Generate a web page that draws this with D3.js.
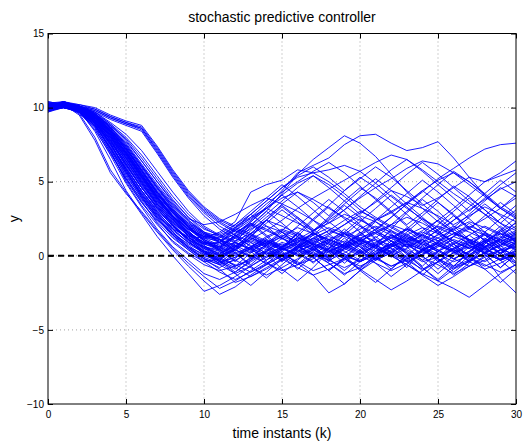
<!DOCTYPE html>
<html>
<head>
<meta charset="utf-8">
<script src="https://cdn.jsdelivr.net/npm/d3@7"></script>
<style>
  body { margin: 0; background: #fff; }
  svg { display: block; font-family: "Liberation Sans", Arial, Helvetica, sans-serif; }
</style>
</head>
<body>
<svg id="chart" width="528" height="441"></svg>
<script>
// DATA — time instants and the simulated output runs
const timeSteps = [0,1,2,3,4,5,6,7,8,9,10,11,12,13,14,15,16,17,18,19,20,21,22,23,24,25,26,27,28,29,30];
const xTicks = [0,5,10,15,20,25,30];
const yTicks = [-10,-5,0,5,10,15];
const reference = [0, 0];

// runs that settle quickly (around k = 8..9)
const runsFast = [
  [10.2,10.3,9.9,8.9,7.2,5.3,3.7,2.2,0.9,0.1,-0.6,-1.0, -0.7,-0.2,0.4,0.9,0.6,0.1,-0.3,0.2,0.8,1.1,0.7,0.2,-0.4,-0.1,0.5,0.9,0.4,0.0,0.3],
  [9.8,10.0,9.7,8.6,6.8,4.9,3.3,1.8,0.6,-0.3,-1.2,-1.6, -1.1,-0.4,0.2,0.0,-0.6,-0.2,0.5,1.0,0.6,-0.1,-0.7,-0.3,0.4,0.8,0.3,-0.4,-0.9,-0.5,0.1],
  [10.4,10.2,10.0,9.1,7.6,5.7,4.0,2.6,1.4,0.5,-0.2,-0.9, -1.8,-1.4,-0.8,-0.2,0.4,0.1,-0.5,-1.2,-0.8,0.0,0.6,1.0,0.5,-0.3,-0.9,-0.4,0.2,0.7,1.2],
  [10.0,10.4,9.8,8.4,6.5,4.4,2.9,1.6,0.4,-0.7,-1.7,-2.6, -2.1,-1.3,-0.6,0.0,0.5,0.9,1.3,0.9,0.3,-0.2,0.3,0.9,1.4,1.0,0.4,0.1,0.6,1.1,0.8],
  [9.7,10.1,9.6,8.7,7.0,5.1,3.6,2.4,1.5,0.8,0.2,-0.4, -0.1,0.6,1.3,1.8,1.4,0.8,0.3,0.7,1.2,1.6,2.1,1.7,1.0,0.4,-0.2,0.3,0.9,1.3,1.0],
  [10.3,10.1,9.8,8.8,7.3,5.6,4.1,2.8,1.7,0.9,0.3,0.0, 0.5,1.1,0.7,0.2,-0.5,-1.3,-2.5,-1.9,-1.0,-0.3,0.2,0.8,0.4,-0.2,-0.8,-0.4,0.2,-0.3,0.1],
  [10.1,10.2,9.5,7.8,5.6,4.2,3.0,1.7,0.5,-0.5,-1.4,-2.2, -1.7,-1.0,-0.3,0.3,0.8,0.4,-0.1,0.5,1.1,0.6,0.0,-0.6,-1.3,-2.0,-1.4,-0.7,0.0,0.4,0.9],
  [9.9,10.3,9.6,8.0,5.8,4.3,2.8,1.3,0.0,-1.2,-2.4,-2.0, -1.4,-0.7,0.0,0.6,1.2,0.9,0.4,0.0,-0.4,0.1,0.7,1.3,0.9,0.4,-0.2,-0.7,-0.3,0.4,0.6],
  [10.0,10.0,9.7,8.5,6.9,5.2,3.8,2.5,1.3,0.4,-0.4,-1.1, -1.6,-1.1,-0.5,0.1,-0.4,-1.0,-0.6,-0.2,-0.9,-1.6,-2.3,-1.7,-1.0,-0.4,0.2,0.6,0.2,-0.3,0.1],
  [10.2,10.0,9.9,9.0,7.5,5.9,4.3,2.9,1.6,0.6,-0.2,-0.6, -0.3,0.3,0.9,0.5,0.0,0.4,1.0,1.5,1.1,0.5,0.0,-0.6,-1.2,-1.7,-2.2,-2.8,-2.0,-1.2,-0.6],
  [9.9,10.2,9.8,8.9,7.1,5.0,3.4,2.1,1.0,0.2,-0.4,-0.2, 0.4,1.0,0.6,0.1,0.6,1.2,0.8,0.3,-0.3,0.2,0.8,0.3,-0.3,0.3,0.9,0.5,-0.1,-1.5,-2.5],
  [10.3,10.4,10.0,9.2,7.8,6.0,4.4,3.0,1.8,0.9,0.2,-0.3, -0.8,-1.4,-0.9,-0.3,0.3,0.8,0.4,-0.2,-0.7,-0.2,0.4,1.0,1.6,1.2,0.6,0.1,-0.4,0.2,0.8]
];

// runs that settle around k = 10..11
const runsMid = [
  [10.1,10.3,10.0,9.4,8.3,6.9,5.4,4.0,2.8,1.8,1.0,0.5, 0.1,0.6,1.2,1.7,1.3,0.7,0.2,0.8,1.4,1.0,0.5,-0.1,0.4,1.0,1.5,1.1,0.6,1.2,1.7],
  [9.8,10.0,9.8,9.3,8.2,6.8,5.3,3.8,2.5,1.4,0.5,-0.2, -0.6,-1.1,-0.6,0.0,0.6,0.2,-0.3,-0.8,-0.3,0.3,0.8,0.4,-0.1,-0.6,-1.2,-0.7,-0.1,0.4,0.1],
  [10.0,10.1,9.9,9.5,8.6,7.3,5.8,4.3,3.0,2.0,1.2,0.7, 1.2,1.8,2.4,2.0,1.5,1.0,1.5,2.1,2.7,2.3,1.7,1.2,0.7,1.2,1.8,2.3,1.9,1.4,2.0],
  [10.2,10.3,10.1,9.6,8.7,7.5,6.1,4.6,3.2,2.0,1.0,0.3, -0.3,-0.8,-1.3,-0.8,-0.2,0.4,0.9,0.5,0.0,-0.5,-1.0,-0.5,0.1,0.7,0.3,-0.2,-0.7,-0.2,0.4],
  [9.9,10.2,9.9,9.2,8.0,6.5,5.0,3.6,2.4,1.5,0.9,0.6, 0.9,0.4,-0.1,0.4,1.0,1.5,1.1,0.6,0.1,0.6,1.2,1.8,1.4,0.8,0.3,0.8,1.4,0.9,0.4],
  [10.4,10.2,10.0,9.4,8.4,7.0,5.5,4.1,2.9,1.9,1.2,1.0, 1.5,2.2,1.8,1.2,0.6,1.1,1.7,2.4,3.0,2.5,1.9,1.3,0.8,0.3,0.8,1.4,2.0,1.5,1.1],
  [10.0,10.1,9.9,9.3,8.3,7.0,5.6,4.2,2.9,1.7,0.7,-0.1, -0.7,-0.3,0.3,-0.2,-0.8,-1.3,-0.9,-0.3,0.2,0.7,0.3,-0.2,0.3,0.9,0.4,-0.1,-0.6,-1.1,-0.6],
  [9.7,10.0,9.8,9.2,8.1,6.6,5.1,3.7,2.6,1.8,1.3,1.1, 0.7,0.2,0.7,1.3,0.9,0.4,-0.1,0.4,0.9,0.5,0.0,0.5,1.1,0.7,0.2,-0.3,0.2,0.8,1.3],
  [10.1,10.4,10.1,9.5,8.5,7.2,5.7,4.3,3.1,2.2,1.6,1.3, 1.8,1.4,0.9,0.4,0.9,1.4,1.9,1.5,1.0,1.5,2.1,2.6,2.2,1.6,1.0,0.5,1.0,1.6,2.2],
  [10.0,10.2,10.0,9.4,8.2,6.7,5.2,3.8,2.5,1.3,0.3,-0.6, -1.2,-0.7,-0.1,0.5,0.1,-0.4,0.1,0.6,1.1,0.7,0.2,-0.3,-0.9,-0.4,0.2,0.7,0.3,-0.2,0.3],
  [9.9,10.1,9.8,9.1,7.9,6.4,4.9,3.4,2.1,1.0,0.1,-0.5, -0.1,0.5,1.0,0.6,0.1,0.6,1.1,0.7,0.2,-0.3,0.2,0.8,0.4,-0.1,0.4,1.0,1.5,1.1,0.6],
  [10.3,10.1,10.0,9.5,8.5,7.1,5.5,4.0,2.6,1.5,0.6,0.0, 0.4,0.0,-0.5,-1.0,-0.6,0.0,0.5,0.1,-0.4,0.1,0.6,1.1,0.6,0.1,-0.4,0.0,0.5,0.0,-0.5],
  [10.2,10.2,10.0,9.6,8.9,8.0,6.8,5.4,4.0,2.8,1.9,1.3, 0.9,0.4,0.9,1.4,1.0,0.5,0.0,0.5,1.0,0.6,0.1,-0.4,0.1,0.6,1.1,0.7,0.2,0.7,1.2],
  [9.8,10.1,9.9,9.5,8.8,7.9,6.6,5.2,3.8,2.6,1.6,0.9, 0.4,-0.1,0.3,0.8,0.4,-0.1,0.3,0.8,0.3,-0.2,-0.7,-0.2,0.3,-0.2,-0.7,-0.3,0.2,-0.3,0.2],
  [10.1,10.3,10.1,9.7,9.0,8.2,7.1,5.7,4.3,3.0,2.0,1.4, 1.0,1.5,2.0,1.6,1.1,0.6,1.1,1.6,1.2,0.7,1.2,1.8,1.3,0.8,1.3,1.8,1.4,0.9,0.4]
];

// slow bundle, still near 8.5 at k = 6
const runsSlow = [
  [10.1,10.4,10.2,9.9,9.4,9.0,8.6,7.2,5.6,4.2,3.1,2.3, 1.7,1.2,0.8,1.3,1.9,1.5,1.0,0.5,1.0,1.6,1.2,0.7,0.2,0.7,1.3,0.9,0.4,0.9,1.5],
  [10.0,10.3,10.1,9.8,9.3,8.9,8.5,7.0,5.4,4.0,2.9,2.0, 1.4,0.9,0.4,0.0,0.5,1.0,0.6,0.1,-0.4,0.1,0.6,1.2,0.8,0.3,-0.2,0.3,0.9,0.5,0.0],
  [10.2,10.3,10.2,10.0,9.5,9.1,8.8,7.4,5.8,4.4,3.3,2.5, 2.0,2.6,3.2,2.7,2.2,1.7,2.2,2.8,2.4,1.9,1.4,0.9,1.4,2.0,1.6,1.1,0.6,1.1,1.6],
  [9.9,10.2,10.0,9.7,9.2,8.8,8.4,6.9,5.3,3.9,2.7,1.8, 1.2,0.7,0.2,-0.3,0.2,0.8,0.3,-0.2,0.3,0.9,1.4,1.0,0.5,0.0,0.5,1.1,0.7,0.2,0.7],
  [10.1,10.2,10.1,9.9,9.4,9.0,8.7,7.3,5.7,4.3,3.2,2.4, 1.9,1.5,1.0,0.5,0.0,0.5,1.1,0.7,0.2,0.7,1.3,0.9,0.4,0.9,1.5,2.0,1.6,1.0,0.5],
  [10.0,10.4,10.1,9.8,9.3,8.9,8.6,7.1,5.5,4.1,3.0,2.2, 1.6,2.1,1.7,1.2,0.7,1.2,1.7,1.3,0.8,0.3,0.8,1.4,1.9,1.5,1.0,0.5,1.0,1.5,1.1]
];

// runs with large excursions after settling
const runsExcursion = [
  [10.0,10.2,9.9,9.3,8.1,6.6,5.0,3.6,2.4,1.5,0.9,0.8, 1.3,2.0,3.0,4.2,5.5,6.5,7.3,8.1,7.6,6.7,5.5,4.3,3.2,2.3,1.6,1.0,0.5,1.0,1.4],
  [10.1,10.2,10.0,9.5,8.5,7.1,5.6,4.2,3.0,2.1,1.5,1.2, 1.7,2.4,3.3,4.4,5.6,6.1,6.6,7.5,8.1,8.2,7.6,7.1,7.3,7.7,6.6,5.3,4.1,3.2,2.5],
  [9.9,10.1,9.7,8.8,7.2,5.4,3.9,2.7,1.8,1.3,1.2,1.6, 2.3,4.3,4.8,5.1,5.8,5.6,5.0,4.2,3.3,2.6,2.0,1.4,0.9,1.4,2.0,1.6,1.1,0.6,1.0],
  [10.2,10.3,10.0,9.4,8.3,6.9,5.3,3.9,2.7,1.8,1.1,0.6, 0.2,0.6,1.1,0.7,0.3,0.8,1.4,2.1,2.9,3.6,4.4,4.0,3.4,3.9,4.6,5.3,5.0,5.4,5.8],
  [10.0,10.1,9.8,9.0,7.6,5.9,4.4,3.1,2.0,1.2,0.6,0.3, 0.7,1.2,0.8,0.4,0.9,1.5,1.1,0.6,1.1,1.8,2.6,3.5,4.3,5.2,5.9,6.6,7.2,7.5,7.6],
  [10.1,10.0,9.8,9.2,8.0,6.4,4.9,3.5,2.3,1.4,0.8,0.9, 1.5,2.3,3.2,4.1,4.9,5.4,4.8,4.0,3.1,2.4,2.9,3.6,4.4,5.1,5.6,5.0,4.2,3.3,2.7],
  [10.3,10.2,9.9,9.3,8.2,6.8,5.3,3.9,2.7,1.8,1.3,1.5, 2.1,2.8,3.7,4.6,5.3,5.6,5.8,6.1,5.7,4.9,4.0,3.2,2.5,1.9,1.4,1.9,2.5,3.2,3.9],
  [9.9,10.2,10.0,9.4,8.4,7.0,5.5,4.0,2.7,1.6,0.8,0.4, 0.0,0.5,1.0,0.6,1.1,1.7,2.4,3.1,3.9,4.6,5.2,5.9,6.4,6.2,5.6,4.8,4.0,3.2,2.6],
  [10.0,10.3,10.1,9.7,8.9,7.8,6.4,5.0,3.7,2.6,1.8,1.4, 1.9,2.5,3.2,3.9,4.3,3.8,3.2,2.6,2.0,1.5,1.0,0.6,1.1,1.7,2.4,3.1,3.8,4.5,5.0],
  [10.2,10.1,9.9,9.1,7.8,6.2,4.6,3.2,2.0,1.1,0.5,0.2, 0.6,1.1,1.7,2.4,3.2,3.9,4.5,5.1,5.7,6.3,6.8,6.5,5.8,5.0,4.2,3.5,2.8,2.2,1.7],
  [10.1,10.3,10.0,9.6,8.7,7.4,6.0,4.6,3.4,2.5,2.1,2.3, 2.8,3.4,3.9,3.5,3.0,2.4,1.8,1.3,1.8,2.4,3.0,3.6,3.2,2.7,2.1,2.7,3.3,2.8,2.3],
  [9.8,10.0,9.7,8.9,7.4,5.7,4.2,2.9,1.9,1.1,0.6,0.4, 0.9,0.5,0.1,0.6,1.2,0.8,0.3,0.8,1.4,2.0,1.6,1.1,1.7,2.4,3.2,4.1,5.0,5.6,6.4]
];

// further runs with a rougher, step-to-step jagged tail
const runsJagged = [
  [10.1,10.0,9.8,9.0,7.7,6.1,4.6,3.3,2.2,1.4,0.8,0.5, 1.4,0.3,-0.6,0.5,1.6,0.7,-0.3,0.9,2.0,1.1,0.2,-0.8,0.4,1.5,0.6,-0.4,0.8,1.7,0.9],
  [9.9,10.3,9.9,9.1,7.8,6.3,4.8,3.5,2.3,1.3,0.5,0.0, 0.9,2.1,3.0,2.2,1.3,2.4,3.3,2.5,1.6,0.7,1.8,2.9,3.8,3.0,2.0,1.1,0.2,1.2,2.3],
  [10.0,10.1,9.7,8.7,7.0,5.2,3.6,2.3,1.2,0.4,-0.3,-0.8, -0.2,0.9,0.1,-0.9,-1.7,-0.8,0.3,1.2,0.4,-0.5,-1.4,-0.6,0.5,-0.4,-1.3,-0.5,0.6,1.5,0.7],
  [10.2,10.3,10.1,9.5,8.4,7.0,5.5,4.1,2.9,2.0,1.4,1.1, 0.3,1.3,2.4,3.5,4.3,3.6,2.7,3.7,4.6,3.9,3.0,2.1,2.9,3.8,4.7,4.0,3.1,2.2,3.1],
  [9.8,10.2,9.9,9.2,8.0,6.6,5.1,3.7,2.4,1.3,0.4,-0.3, -1.1,-0.3,0.7,1.6,0.8,-0.1,-1.0,-0.2,0.8,1.8,1.0,0.1,-0.8,-1.6,-0.7,0.3,1.2,0.4,-0.5],
  [10.1,10.2,10.0,9.3,8.1,6.7,5.2,3.8,2.6,1.6,0.9,0.5, 1.3,2.2,1.4,0.5,1.5,2.5,3.4,4.4,5.3,4.6,3.7,2.8,1.9,1.0,1.9,2.8,3.7,4.6,4.0],
  [10.3,10.2,10.0,9.4,8.3,6.9,5.4,4.0,2.7,1.6,0.7,0.1, 0.7,-0.2,0.8,1.7,2.6,1.8,0.9,0.0,-0.9,0.1,1.0,0.2,-0.7,0.3,1.3,2.2,1.4,0.5,-0.4],
  [9.9,10.0,9.8,9.2,8.1,6.6,5.0,3.5,2.2,1.1,0.3,-0.2, 0.6,1.5,2.4,3.3,2.5,1.6,0.7,1.6,2.5,1.7,0.8,1.8,2.7,3.6,2.8,1.9,1.0,0.1,0.9],
  [10.0,10.4,10.0,9.3,8.0,6.4,4.8,3.4,2.1,1.1,0.3,-0.3, 0.5,1.4,0.6,-0.3,0.6,1.6,0.8,-0.1,-1.0,-1.8,-0.9,0.1,-0.8,-1.7,-0.9,0.0,1.0,0.2,-0.7],
  [10.2,10.1,9.9,9.4,8.5,7.3,5.9,4.5,3.2,2.1,1.3,0.9, 1.7,2.6,3.5,4.3,5.0,5.7,6.3,5.6,4.7,3.8,2.9,2.0,1.2,2.1,3.0,3.9,3.1,2.2,1.4],
  [10.0,10.2,9.9,9.1,7.6,5.8,4.1,2.7,1.5,0.6,-0.1,-0.5, 0.4,1.3,0.5,-0.4,0.5,1.4,2.3,1.5,0.6,-0.3,0.6,1.5,0.7,-0.2,-1.1,-0.3,0.6,-0.3,-1.2],
  [9.9,10.1,9.8,9.0,7.7,6.1,4.6,3.2,2.0,1.2,0.8,0.9, 1.8,2.8,3.7,4.6,5.4,6.0,5.3,4.4,5.2,6.0,5.3,4.4,3.5,2.6,1.7,2.6,3.5,2.7,1.8],
  [10.1,10.3,10.1,9.6,8.8,7.7,6.4,5.0,3.6,2.4,1.5,0.9, 0.2,-0.6,0.3,1.2,0.4,-0.5,0.5,1.5,0.7,-0.2,0.7,1.6,2.5,1.7,0.8,-0.1,0.8,1.7,2.6],
  [10.2,10.1,9.7,8.8,7.3,5.5,3.9,2.5,1.4,0.6,0.1,-0.1, 0.8,1.7,2.6,3.4,2.6,1.7,2.6,3.5,4.4,5.2,4.4,3.5,2.6,1.7,0.8,0.0,0.9,1.8,0.9],
  [9.8,10.0,9.8,9.3,8.4,7.2,5.8,4.4,3.1,2.0,1.1,0.4, -0.4,0.5,-0.4,-1.2,-0.3,0.6,-0.2,-1.0,-0.1,0.8,1.7,0.9,0.0,0.9,1.8,1.0,0.1,-0.8,0.1],
  [10.0,10.2,10.0,9.5,8.6,7.4,6.0,4.6,3.3,2.2,1.4,1.0, 1.9,2.8,2.0,1.1,2.0,2.9,3.8,3.0,2.1,1.2,2.1,3.0,3.9,4.8,5.7,5.0,4.1,3.2,4.1],
  [10.3,10.3,10.0,9.2,7.9,6.2,4.6,3.2,2.0,1.0,0.2,-0.4, -0.9,-0.1,0.8,0.0,-0.9,0.0,0.9,1.8,1.0,0.1,1.0,1.9,1.1,0.2,-0.7,0.2,1.1,2.0,1.2],
  [9.9,10.1,9.9,9.4,8.5,7.2,5.7,4.2,2.9,1.9,1.3,1.2, 2.1,3.0,3.9,4.8,4.0,3.1,2.2,3.1,4.0,4.9,5.8,6.5,5.7,4.8,3.9,3.0,3.9,4.8,5.6],
  [10.1,10.0,9.8,9.1,7.8,6.2,4.7,3.3,2.1,1.1,0.3,-0.4, -1.2,-2.0,-1.1,-0.2,0.7,-0.1,-1.0,-1.9,-1.0,-0.1,0.8,-0.1,-1.0,-0.1,0.8,0.0,-0.9,-1.8,-0.9],
  [10.2,10.4,10.1,9.6,8.6,7.3,5.8,4.3,3.0,1.9,1.0,0.4, 1.2,2.1,1.3,0.4,1.3,0.5,-0.4,0.5,1.4,2.3,1.5,0.6,1.5,2.4,1.6,0.7,1.6,2.5,3.4],
  [10.0,10.1,9.9,9.4,8.5,7.2,5.7,4.3,3.0,1.9,1.1,0.6, 1.4,2.3,3.2,4.1,3.3,2.4,1.5,0.6,1.5,2.4,3.3,4.2,5.1,4.3,3.4,2.5,1.6,0.7,1.6],
  [9.8,10.1,9.7,8.8,7.3,5.6,4.0,2.6,1.4,0.5,-0.2,-0.6, 0.2,-0.7,-1.5,-0.6,0.3,1.2,0.4,-0.5,0.4,1.3,0.5,-0.4,-1.3,-0.4,0.5,1.4,0.6,-0.3,0.6],
  [10.1,10.2,10.0,9.5,8.7,7.6,6.2,4.8,3.5,2.4,1.6,1.1, 0.6,1.5,2.4,1.6,0.7,1.6,2.5,3.4,2.6,1.7,2.6,3.5,4.4,3.6,2.7,1.8,2.7,3.6,2.8],
  [10.3,10.2,9.9,9.0,7.5,5.8,4.2,2.8,1.6,0.7,0.0,-0.3, 0.6,1.5,0.7,-0.2,0.7,-0.1,-1.0,-0.1,0.8,0.0,-0.9,0.0,0.9,1.8,2.7,1.9,1.0,0.1,1.0],
  [10.0,10.3,10.0,9.4,8.3,6.9,5.4,3.9,2.6,1.5,0.6,0.1, 1.0,1.9,2.8,3.7,4.6,5.4,4.6,3.7,2.8,3.7,4.6,5.5,6.3,5.5,4.6,3.7,2.8,1.9,1.0],
  [9.9,10.2,9.8,8.9,7.5,5.9,4.4,3.0,1.8,0.9,0.3,0.1, -0.7,0.2,1.1,0.3,-0.6,0.3,-0.5,-1.3,-0.4,0.5,1.4,0.6,-0.3,-1.2,-0.3,0.6,1.5,0.7,-0.2],
  [10.2,10.3,10.1,9.6,8.7,7.5,6.1,4.7,3.4,2.3,1.5,1.1, 0.4,1.3,2.2,3.1,2.3,1.4,0.5,1.4,2.3,3.2,4.1,3.3,2.4,1.5,2.4,3.3,4.2,5.1,4.3],
  [10.1,10.1,9.9,9.3,8.2,6.8,5.3,3.9,2.6,1.6,0.9,0.6, 1.4,0.6,-0.3,0.6,1.5,0.7,-0.2,0.7,1.6,0.8,-0.1,0.8,0.0,-0.9,0.0,0.9,0.1,-0.8,0.1]
];

const runs = [...runsFast, ...runsMid, ...runsSlow, ...runsExcursion, ...runsJagged];

// LAYOUT
const svg = d3.select("#chart");
const box = { left: 48, right: 516, top: 33.5, bottom: 404 };

const x = d3.scaleLinear().domain([0, 30]).range([box.left, box.right]);
const y = d3.scaleLinear().domain([-10, 15]).range([box.bottom, box.top]);

// grid (dotted, MATLAB style)
const grid = svg.append("g").attr("class", "grid")
  .attr("stroke", "#8c8c8c").attr("stroke-width", 0.8).attr("stroke-dasharray", "1,3");
grid.selectAll(".gx").data(xTicks.slice(1, -1)).enter().append("line")
  .attr("x1", d => x(d)).attr("x2", d => x(d)).attr("y1", box.top).attr("y2", box.bottom);
grid.selectAll(".gy").data(yTicks.slice(1, -1)).enter().append("line")
  .attr("y1", d => y(d)).attr("y2", d => y(d)).attr("x1", box.left).attr("x2", box.right);

// trajectories
svg.append("clipPath").attr("id", "plotclip").append("rect")
  .attr("x", box.left).attr("y", box.top)
  .attr("width", box.right - box.left).attr("height", box.bottom - box.top);

const line = d3.line().x((d, i) => x(timeSteps[i])).y(d => y(d));

svg.append("g").attr("clip-path", "url(#plotclip)")
  .selectAll("path").data(runs).enter().append("path")
  .attr("d", line)
  .attr("fill", "none")
  .attr("stroke", "#0000ff")
  .attr("stroke-width", 0.9)
  .attr("stroke-linejoin", "round");

// reference (dashed black at 0)
svg.append("line")
  .attr("x1", x(0)).attr("x2", x(30))
  .attr("y1", y(reference[0])).attr("y2", y(reference[1]))
  .attr("stroke", "#000").attr("stroke-width", 2).attr("stroke-dasharray", "6,4");

// axes with inward ticks
const xAxisB = d3.axisBottom(x).tickValues(xTicks).tickSizeInner(-5).tickSizeOuter(0).tickPadding(7);
const xAxisT = d3.axisTop(x).tickValues(xTicks).tickSizeInner(-5).tickSizeOuter(0).tickFormat("");
const yAxisL = d3.axisLeft(y).tickValues(yTicks).tickSizeInner(-5).tickSizeOuter(0).tickPadding(4);
const yAxisR = d3.axisRight(y).tickValues(yTicks).tickSizeInner(-5).tickSizeOuter(0).tickFormat("");

function styleAxis(g) {
  g.select(".domain").remove();
  g.selectAll("line").attr("stroke", "#000");
  g.selectAll("text").attr("fill", "#000").style("font-size", "10px");
}

svg.append("g").attr("transform", `translate(0,${box.bottom})`).call(xAxisB).call(styleAxis);
svg.append("g").attr("transform", `translate(0,${box.top})`).call(xAxisT).call(styleAxis);
svg.append("g").attr("transform", `translate(${box.left},0)`).call(yAxisL).call(styleAxis);
svg.append("g").attr("transform", `translate(${box.right},0)`).call(yAxisR).call(styleAxis);

svg.append("rect")
  .attr("x", box.left).attr("y", box.top)
  .attr("width", box.right - box.left).attr("height", box.bottom - box.top)
  .attr("fill", "none").attr("stroke", "#000").attr("stroke-width", 1);

// labels
svg.append("text").attr("x", (box.left + box.right) / 2).attr("y", 22)
  .attr("text-anchor", "middle").style("font-size", "14px")
  .text("stochastic predictive controller");

svg.append("text").attr("x", (box.left + box.right) / 2).attr("y", 438)
  .attr("text-anchor", "middle").style("font-size", "14px")
  .text("time instants (k)");

svg.append("text")
  .attr("transform", `translate(19,${(box.top + box.bottom) / 2}) rotate(-90)`)
  .attr("text-anchor", "middle").style("font-size", "14px")
  .text("y");
</script>
</body>
</html>
